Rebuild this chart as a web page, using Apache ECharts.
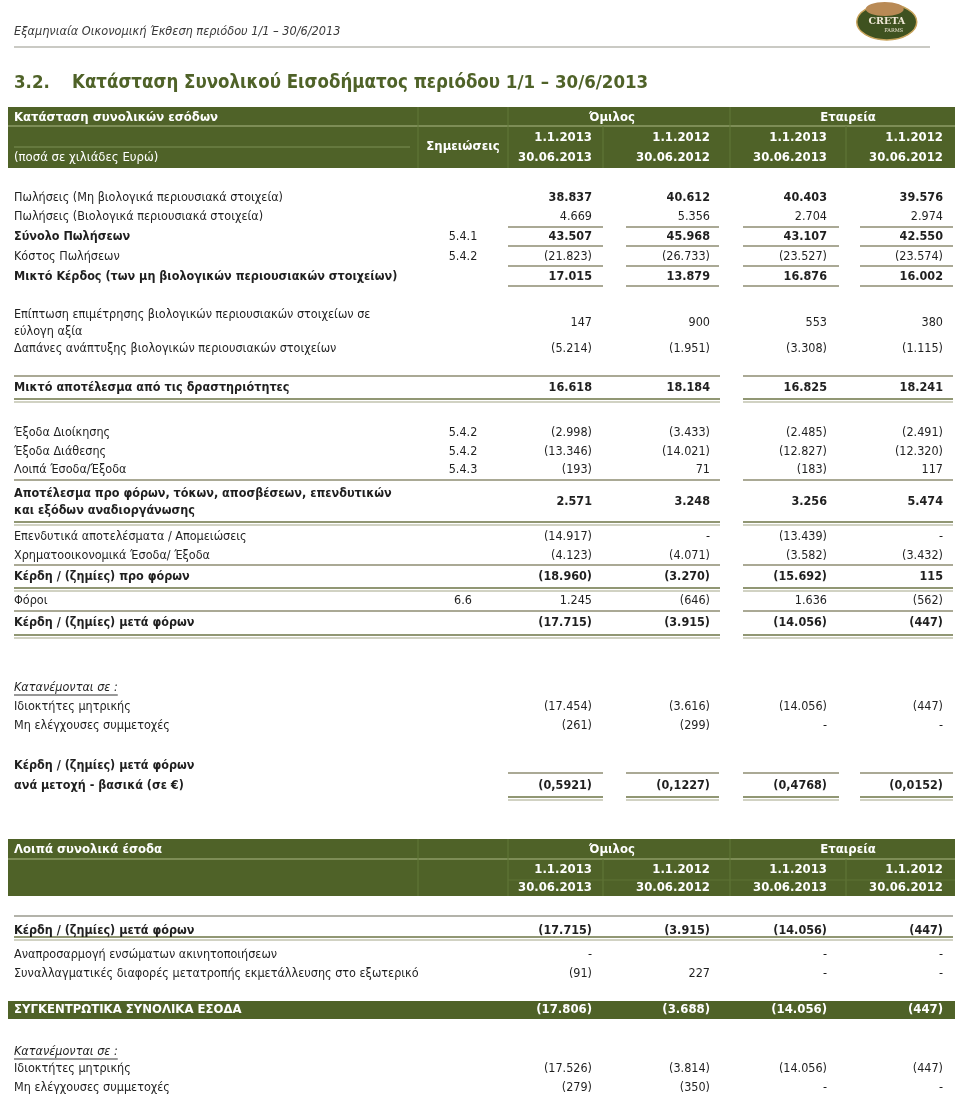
<!DOCTYPE html>
<html>
<head>
<meta charset="utf-8">
<script src="https://cdn.jsdelivr.net/npm/echarts@6.0.0/dist/echarts.min.js"></script>
<style>
  html, body { margin: 0; padding: 0; background: #fff; }
  #main { width: 960px; height: 1098px; }
</style>
</head>
<body>
<div id="main"></div>
<script>
// ---- data ----
const periodStart = ['1.1.2013', '1.1.2012', '1.1.2013', '1.1.2012'];
const periodEnd = ['30.06.2013', '30.06.2012', '30.06.2013', '30.06.2012'];

// statement of comprehensive income (null = empty cell, 0 = "-")
const incomeLabels = [
  'Πωλήσεις (Μη βιολογικά περιουσιακά στοιχεία)',
  'Πωλήσεις (Βιολογικά περιουσιακά στοιχεία)',
  'Σύνολο Πωλήσεων',
  'Κόστος Πωλήσεων',
  'Μικτό Κέρδος (των μη βιολογικών περιουσιακών στοιχείων)',
  'Επίπτωση επιμέτρησης βιολογικών περιουσιακών στοιχείων σε\nεύλογη αξία',
  'Δαπάνες ανάπτυξης βιολογικών περιουσιακών στοιχείων',
  'Μικτό αποτέλεσμα από τις δραστηριότητες',
  'Έξοδα Διοίκησης',
  'Έξοδα Διάθεσης',
  'Λοιπά Έσοδα/Έξοδα',
  'Αποτέλεσμα προ φόρων, τόκων, αποσβέσεων, επενδυτικών\nκαι εξόδων αναδιοργάνωσης',
  'Επενδυτικά αποτελέσματα / Απομειώσεις',
  'Χρηματοοικονομικά Έσοδα/ Έξοδα',
  'Κέρδη / (ζημίες) προ φόρων',
  'Φόροι',
  'Κέρδη / (ζημίες) μετά φόρων',
  'Κατανέμονται σε :',
  'Ιδιοκτήτες μητρικής',
  'Μη ελέγχουσες συμμετοχές',
  'Κέρδη / (ζημίες) μετά φόρων',
  'ανά μετοχή - βασικά (σε €)'
];
const incomeNotes = ['', '', '5.4.1', '5.4.2', '', '', '', '', '5.4.2', '5.4.2', '5.4.3', '',
  '', '', '', '6.6', '', '', '', '', '', ''];
const groupCur = [38837, 4669, 43507, -21823, 17015, 147, -5214, 16618, -2998, -13346, -193, 2571,
  -14917, -4123, -18960, 1245, -17715, null, -17454, -261, null, -0.5921];
const groupPrev = [40612, 5356, 45968, -26733, 13879, 900, -1951, 18184, -3433, -14021, 71, 3248,
  0, -4071, -3270, -646, -3915, null, -3616, -299, null, -0.1227];
const companyCur = [40403, 2704, 43107, -23527, 16876, 553, -3308, 16825, -2485, -12827, -183, 3256,
  -13439, -3582, -15692, 1636, -14056, null, -14056, 0, null, -0.4768];
const companyPrev = [39576, 2974, 42550, -23574, 16002, 380, -1115, 18241, -2491, -12320, 117, 5474,
  0, -3432, 115, -562, -447, null, -447, 0, null, -0.0152];

// other comprehensive income
const otherLabels = [
  'Κέρδη / (ζημίες) μετά φόρων',
  'Αναπροσαρμογή ενσώματων ακινητοποιήσεων',
  'Συναλλαγματικές διαφορές μετατροπής εκμετάλλευσης στο εξωτερικό',
  'ΣΥΓΚΕΝΤΡΩΤΙΚΑ ΣΥΝΟΛΙΚΑ ΕΣΟΔΑ',
  'Κατανέμονται σε :',
  'Ιδιοκτήτες μητρικής',
  'Μη ελέγχουσες συμμετοχές'
];
const otherGroupCur = [-17715, 0, -91, -17806, null, -17526, -279];
const otherGroupPrev = [-3915, null, 227, -3688, null, -3814, -350];
const otherCompanyCur = [-14056, 0, 0, -14056, null, -14056, 0];
const otherCompanyPrev = [-447, 0, 0, -447, null, -447, 0];

// ---- layout ----
const FONT = '"DejaVu Sans Condensed", "DejaVu Sans", sans-serif';
const SIZE = 12.5;
const HEAD_SIZE = 13;
const TEXT = '#1f1f1f';
const GREEN = '#4f6228';
const X_LABEL = 14, X_NOTE = 463;
const X_COLS = [592, 710, 827, 943];
const SEG = [[508, 603], [626, 719], [743, 839], [860, 953]];
const FULL = [[14, 720], [743, 953]];

const incomeY = [198, 217, 237, 257, 277, 323, 349, 388, 433, 452, 470, 502, 537, 556, 577, 601, 623,
  688, 707, 726, 766, 786];
// 0 regular, 1 bold values only, 2 bold, 3 italic underlined
const incomeStyle = [1, 0, 2, 0, 2, 0, 0, 2, 0, 0, 0, 2, 0, 0, 2, 0, 2, 3, 0, 0, 2, 2];
const otherY = [931, 955, 974, 1010, 1052, 1069, 1088];
const otherStyle = [2, 0, 0, 4, 3, 0, 0]; // 4 = bold white in band

function fmt(v) {
  if (v === null || v === undefined) return '';
  if (v === 0) return '-';
  const a = Math.abs(v);
  const s = Number.isInteger(a)
    ? String(a).replace(/\B(?=(\d{3})+(?!\d))/g, '.')
    : a.toFixed(4).replace('.', ',');
  return v < 0 ? '(' + s + ')' : s;
}

const measureCtx = document.createElement('canvas').getContext('2d');
function textWidth(t, font) { measureCtx.font = font; return measureCtx.measureText(t).width; }

// ---- build cells, lines, bands ----
const cells = [];
function cell(x, y, text, o) {
  cells.push(Object.assign({ x, y, text, align: 'left', bold: false, italic: false, color: TEXT, size: SIZE, lh: 16.5 }, o || {}));
}
const lines = [];
function hline(x1, x2, y, kind, color, w) { lines.push({ x1, x2, y, kind, color, w }); }
const bands = [];
function band(x1, y1, x2, y2, color) { bands.push({ x1, y1, x2, y2, color }); }

function headerBand(top, mid, bottom, title, dateY1, dateY2, withNotes) {
  const h = { bold: true, color: '#fff', size: HEAD_SIZE };
  band(8, top, 955, bottom, GREEN);
  hline(8, 955, mid, 'single', '#8d9c66', 1.5);
  [418, 508, 730].forEach(x => lines.push({ v: true, x, y1: top, y2: bottom, color: '#637838', w: 1 }));
  [603, 846].forEach(x => lines.push({ v: true, x, y1: mid, y2: bottom, color: '#637838', w: 1 }));
  cell(X_LABEL, (top + mid) / 2 + 1, title, h);
  cell(612, (top + mid) / 2 + 1, 'Όμιλος', Object.assign({ align: 'center' }, h));
  cell(848, (top + mid) / 2 + 1, 'Εταιρεία', Object.assign({ align: 'center' }, h));
  X_COLS.forEach((x, i) => {
    cell(x, dateY1, periodStart[i], Object.assign({ align: 'right' }, h));
    cell(x, dateY2, periodEnd[i], Object.assign({ align: 'right' }, h));
  });
  if (withNotes) {
    hline(14, 410, (dateY1 + dateY2) / 2 - 1, 'single', '#7d8f55', 1);
    cell(X_NOTE, (mid + bottom) / 2, 'Σημειώσεις', Object.assign({ align: 'center' }, h));
    cell(X_LABEL, dateY2, '(ποσά σε χιλιάδες Ευρώ)', { color: '#fff', size: HEAD_SIZE });
  } else {
    hline(508, 955, (dateY1 + dateY2) / 2 + 1, 'single', '#5e7334', 1);
  }
}

function bodyRows(labels, ys, styles, cols, notes) {
  labels.forEach((lab, i) => {
    const st = styles[i];
    const y = ys[i];
    if (st === 3) {
      const f = 'italic ' + SIZE + 'px ' + FONT;
      cell(X_LABEL, y, lab, { italic: true });
      hline(X_LABEL, X_LABEL + textWidth(lab, f), y + 7, 'single', '#333', 1);
      return;
    }
    const white = st === 4;
    if (white) band(8, y - 9, 955, y + 9, GREEN);
    cell(X_LABEL, y, lab, { bold: st >= 2, color: white ? '#fff' : TEXT, size: white ? HEAD_SIZE : SIZE });
    if (notes && notes[i]) cell(X_NOTE, y, notes[i], { align: 'center' });
    cols.forEach((arr, c) => {
      const t = fmt(arr[i]);
      if (t) cell(X_COLS[c], y, t, { align: 'right', bold: st >= 1, color: white ? '#fff' : TEXT, size: white ? HEAD_SIZE : SIZE });
    });
  });
}

headerBand(107, 126, 168, 'Κατάσταση συνολικών εσόδων', 138, 158, true);
bodyRows(incomeLabels, incomeY, incomeStyle, [groupCur, groupPrev, companyCur, companyPrev], incomeNotes);

[227, 246, 266, 286].forEach(y => SEG.forEach(s => hline(s[0], s[1], y, 'single')));
[[376, 'single'], [399, 'double'], [480, 'single'], [522, 'double'], [565, 'single'],
 [588, 'double'], [611, 'single'], [635, 'double']].forEach(r => FULL.forEach(s => hline(s[0], s[1], r[0], r[1])));
SEG.forEach(s => { hline(s[0], s[1], 773, 'single'); hline(s[0], s[1], 797, 'double'); });

headerBand(839, 859, 896, 'Λοιπά συνολικά έσοδα', 870, 888, false);
bodyRows(otherLabels, otherY, otherStyle, [otherGroupCur, otherGroupPrev, otherCompanyCur, otherCompanyPrev], null);
hline(14, 953, 916, 'single', '#b3b3aa', 2);
hline(14, 953, 937, 'double');

// ---- chart ----
const chart = echarts.init(document.getElementById('main'), null, { renderer: 'canvas' });

function renderBand(params, api) {
  const b = bands[params.dataIndex];
  const p1 = api.coord([b.x1, b.y1]);
  const p2 = api.coord([b.x2, b.y2]);
  return { type: 'rect', shape: { x: p1[0], y: p1[1], width: p2[0] - p1[0], height: p2[1] - p1[1] }, style: { fill: b.color } };
}

function renderLine(params, api) {
  const l = lines[params.dataIndex];
  if (l.v) {
    const a = api.coord([l.x, l.y1]), b = api.coord([l.x, l.y2]);
    return { type: 'line', shape: { x1: a[0], y1: a[1], x2: b[0], y2: b[1] }, style: { stroke: l.color, lineWidth: l.w } };
  }
  const a = api.coord([l.x1, l.y]), b = api.coord([l.x2, l.y]);
  if (l.kind === 'double') {
    return {
      type: 'group',
      children: [
        { type: 'line', shape: { x1: a[0], y1: a[1], x2: b[0], y2: b[1] }, style: { stroke: '#6c7446', lineWidth: 1.6 } },
        { type: 'line', shape: { x1: a[0], y1: a[1] + 3, x2: b[0], y2: b[1] + 3 }, style: { stroke: '#a4a688', lineWidth: 1.2 } }
      ]
    };
  }
  return { type: 'line', shape: { x1: a[0], y1: a[1], x2: b[0], y2: b[1] }, style: { stroke: l.color || '#8e8d72', lineWidth: l.w || 1.5 } };
}

function renderText(params, api) {
  const c = cells[params.dataIndex];
  const p = api.coord([c.x, c.y]);
  return {
    type: 'text',
    x: p[0],
    y: p[1],
    style: {
      text: c.text,
      fill: c.color,
      fontFamily: FONT,
      fontSize: c.size,
      fontWeight: c.bold ? 'bold' : 'normal',
      fontStyle: c.italic ? 'italic' : 'normal',
      lineHeight: c.lh,
      align: c.align,
      verticalAlign: 'middle'
    }
  };
}

chart.setOption({
  animation: false,
  grid: { left: 0, right: 0, top: 0, bottom: 0 },
  xAxis: { type: 'value', min: 0, max: 960, show: false },
  yAxis: { type: 'value', min: 0, max: 1098, inverse: true, show: false },
  graphic: [
    { type: 'text', left: 14, top: 25, style: { text: 'Εξαμηνιαία Οικονομική Έκθεση περιόδου 1/1 – 30/6/2013', fill: '#3a3a3a', font: 'italic 12.6px ' + FONT } },
    { type: 'line', shape: { x1: 14, y1: 47, x2: 930, y2: 47 }, style: { stroke: '#b8b8b0', lineWidth: 1.5 } },
    { type: 'text', left: 14, top: 74, style: { text: '3.2.', fill: GREEN, font: 'bold 18.5px ' + FONT } },
    { type: 'text', left: 72, top: 74, style: { text: 'Κατάσταση Συνολικού Εισοδήματος περιόδου 1/1 – 30/6/2013', fill: GREEN, font: 'bold 18.5px ' + FONT } },
    {
      type: 'group', left: 856, top: 2,
      children: [
        { type: 'ellipse', shape: { cx: 31, cy: 21, rx: 30, ry: 18 }, style: { fill: '#3f5220', stroke: '#c9a45c', lineWidth: 1.5 } },
        { type: 'ellipse', shape: { cx: 29, cy: 8, rx: 19, ry: 7 }, style: { fill: '#b98a55' } },
        { type: 'text', style: { x: 31, y: 21, text: 'CRETA', fill: '#f2ead8', font: 'bold 9.5px "DejaVu Serif", serif', align: 'center', verticalAlign: 'middle' } },
        { type: 'text', style: { x: 38, y: 30, text: 'FARMS', fill: '#f2ead8', font: '5px "DejaVu Serif", serif', align: 'center', verticalAlign: 'middle' } }
      ]
    }
  ],
  series: [
    { type: 'custom', z: 1, silent: true, clip: false, renderItem: renderBand, data: bands.map(b => [b.x1, b.y1]) },
    { type: 'custom', z: 2, silent: true, clip: false, renderItem: renderLine, data: lines.map(l => [l.x1 || l.x, l.y || l.y1]) },
    { type: 'custom', z: 3, silent: true, clip: false, renderItem: renderText, data: cells.map(c => [c.x, c.y]) }
  ]
});
</script>
</body>
</html>
